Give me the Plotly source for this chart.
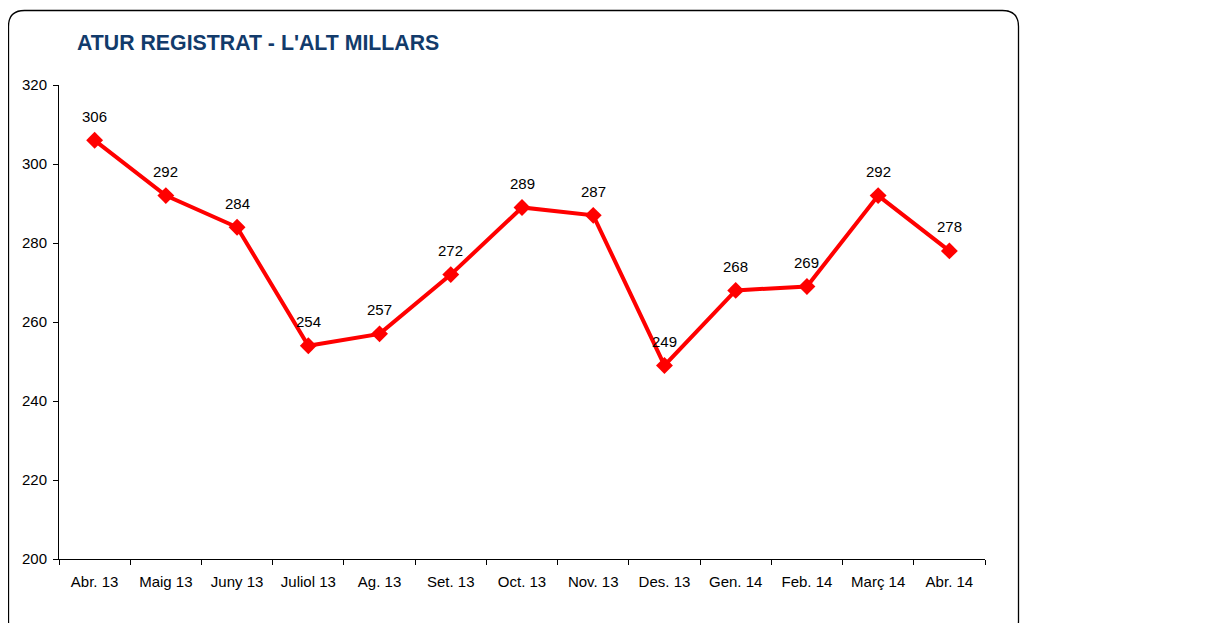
import plotly.graph_objects as go

categories = ["Abr. 13", "Maig 13", "Juny 13", "Juliol 13", "Ag. 13", "Set. 13", "Oct. 13",
              "Nov. 13", "Des. 13", "Gen. 14", "Feb. 14", "Març 14", "Abr. 14"]
values = [306, 292, 284, 254, 257, 272, 289, 287, 249, 268, 269, 292, 278]
y_ticks = [200, 220, 240, 260, 280, 300, 320]

OFF = 8  # page body margin
W, H = 1205 - 2 * OFF, 631 - 2 * OFF
L, R, T, B = 59 - OFF, 985 - OFF, 85 - OFF, 559 - OFF
pw, ph = R - L, B - T

def px(x):
    return (x - OFF - L) / pw

def py(y):
    return (B - (y - OFF)) / ph

fig = go.Figure()
fig.add_trace(go.Scatter(
    x=categories, y=values, mode="lines+markers",
    line=dict(color="#FF0000", width=4),
    marker=dict(symbol="diamond", size=13, color="#FF0000"),
    hoverinfo="skip", showlegend=False,
))
for c, v in zip(categories, values):
    fig.add_annotation(x=c, y=v, text=str(v), showarrow=False, yshift=24,
                       font=dict(family="Liberation Sans, Arial", size=15, color="#000000"))

# rounded border
x0, x1, y0, y1, r = 8.5, 1018.5, 10.5, 637, 16
path = (f"M {px(x0)},{py(y0 + r)} "
        f"Q {px(x0)},{py(y0)} {px(x0 + r)},{py(y0)} "
        f"L {px(x1 - r)},{py(y0)} "
        f"Q {px(x1)},{py(y0)} {px(x1)},{py(y0 + r)} "
        f"L {px(x1)},{py(y1 - r)} "
        f"Q {px(x1)},{py(y1)} {px(x1 - r)},{py(y1)} "
        f"L {px(x0 + r)},{py(y1)} "
        f"Q {px(x0)},{py(y1)} {px(x0)},{py(y1 - r)} Z")
fig.add_shape(type="path", path=path, xref="paper", yref="paper",
              line=dict(color="#000000", width=1.3), layer="below")

fig.add_annotation(text="<b>ATUR REGISTRAT - L'ALT MILLARS</b>", xref="paper", yref="paper",
                   x=px(75), y=py(43), xanchor="left", yanchor="middle", showarrow=False,
                   font=dict(family="Liberation Sans, Arial", size=21.3, color="#123B6B"))

fig.update_layout(
    width=W, height=H,
    margin=dict(l=L, r=W - R, t=T, b=H - B),
    paper_bgcolor="white", plot_bgcolor="white",
    font=dict(family="Liberation Sans, Arial", size=15, color="#000000"),
    xaxis=dict(type="category", tickson="boundaries", ticks="outside", ticklen=5,
               tickcolor="#000000", showline=True, linecolor="#000000", linewidth=1,
               showgrid=False, range=[-0.5, len(categories) - 0.5],
               tickfont=dict(size=15), ticklabelstandoff=9),
    yaxis=dict(range=[200, 320], tickvals=y_ticks, ticks="outside", ticklen=5,
               tickcolor="#000000", showline=True, linecolor="#000000", linewidth=1,
               showgrid=False, zeroline=False, tickfont=dict(size=15), ticklabelstandoff=3),
)
fig.write_html("out.html")
